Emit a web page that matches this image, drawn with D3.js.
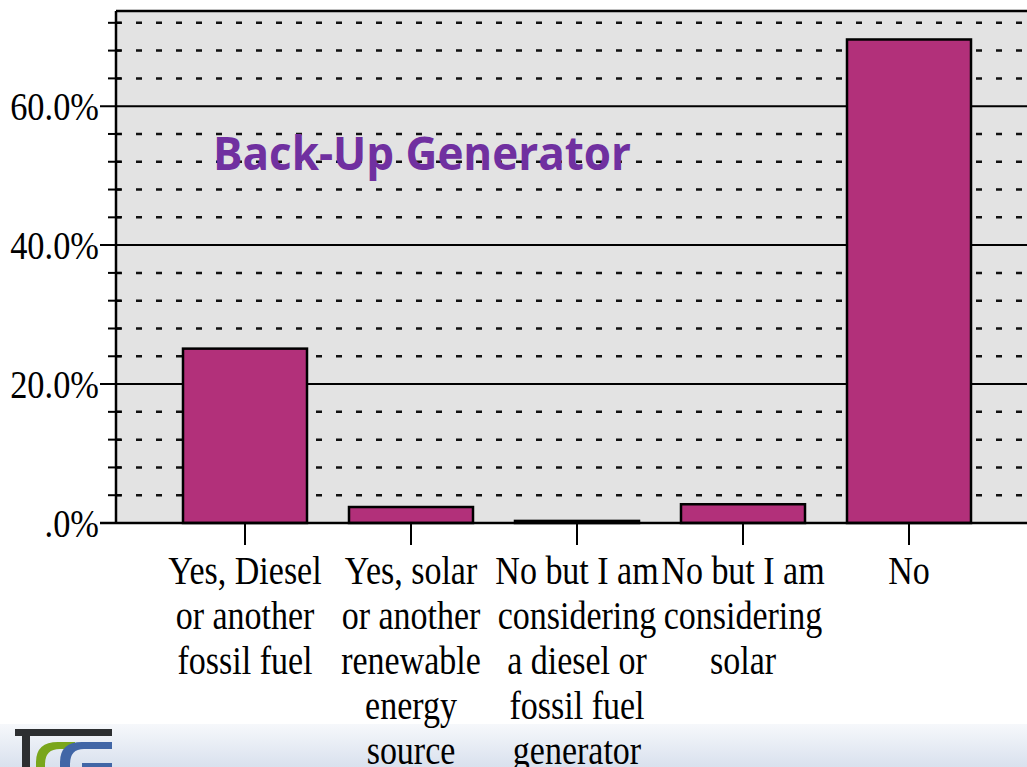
<!DOCTYPE html>
<html>
<head>
<meta charset="utf-8">
<script src="https://cdn.jsdelivr.net/npm/d3@7"></script>
<style>
  html, body { margin: 0; padding: 0; background: #fff; }
  svg { display: block; }
</style>
</head>
<body>
<div id="vis"></div>
<script>
// data
const categories = ['diesel', 'solarYes', 'considerDiesel', 'considerSolar', 'no'];
const categoryLabels = [
  ['Yes, Diesel', 'or another', 'fossil fuel'],
  ['Yes, solar', 'or another', 'renewable', 'energy', 'source'],
  ['No but I am', 'considering', 'a diesel or', 'fossil fuel', 'generator'],
  ['No but I am', 'considering', 'solar'],
  ['No']
];
const percents = [25.1, 2.3, 0.3, 2.7, 69.6];
const majorTicks = [0, 20, 40, 60];
const majorTickLabels = ['.0%', '20.0%', '40.0%', '60.0%'];
const minorTicks = [4, 8, 12, 16, 24, 28, 32, 36, 44, 48, 52, 56, 64, 68, 72];

const W = 1027, H = 767;
const plot = { left: 116, top: 11, bottom: 523, right: 1040 };

const svg = d3.select('#vis')
  .append('svg')
  .attr('width', W)
  .attr('height', H)
  .attr('viewBox', [0, 0, W, H].join(' '));

const x = d3.scaleBand()
  .domain(categories)
  .range([162, 992])
  .paddingInner(0.253)
  .paddingOuter(0.1265);

const y = d3.scaleLinear()
  .domain([0, 73.7])
  .range([plot.bottom, plot.top]);

// bottom band + logo
const defs = svg.append('defs');
const grad = defs.append('linearGradient')
  .attr('id', 'band')
  .attr('x1', 0).attr('y1', 0).attr('x2', 0).attr('y2', 1);
grad.append('stop').attr('offset', '0%').attr('stop-color', '#f6f8fb');
grad.append('stop').attr('offset', '100%').attr('stop-color', '#d9e1ee');

svg.append('rect')
  .attr('x', 0).attr('y', 724)
  .attr('width', W).attr('height', H - 724)
  .attr('fill', 'url(#band)');

const logo = svg.append('g');
logo.append('rect').attr('x', 15).attr('y', 729).attr('width', 97).attr('height', 7).attr('fill', '#2d2f31');
logo.append('rect').attr('x', 22).attr('y', 729).attr('width', 8).attr('height', 40).attr('fill', '#2d2f31');
logo.append('path')
  .attr('d', 'M36,769 L36,762 Q36,742 58,742 L75,742 L75,749 L60,749 Q45,749 45,764 L45,769 Z')
  .attr('fill', '#7aa61c');
logo.append('path')
  .attr('d', 'M60,769 L60,762 Q60,742 82,742 L112,742 L112,749 L84,749 Q70,749 70,764 L70,769 Z')
  .attr('fill', '#4166a6');
logo.append('rect').attr('x', 82).attr('y', 763).attr('width', 30).attr('height', 6).attr('fill', '#4166a6');

// plot background
svg.append('rect')
  .attr('x', plot.left).attr('y', plot.top)
  .attr('width', plot.right - plot.left).attr('height', plot.bottom - plot.top)
  .attr('fill', '#e3e3e3');

// dotted minor grid
svg.append('g')
  .selectAll('line')
  .data(minorTicks)
  .join('line')
  .attr('x1', plot.left).attr('x2', plot.right)
  .attr('y1', d => y(d)).attr('y2', d => y(d))
  .attr('stroke', '#111')
  .attr('stroke-width', 2.5)
  .attr('stroke-dasharray', '6 14');

// minor tick marks on the left axis
svg.append('g')
  .selectAll('line')
  .data(minorTicks)
  .join('line')
  .attr('x1', 108).attr('x2', 121)
  .attr('y1', d => y(d)).attr('y2', d => y(d))
  .attr('stroke', '#000')
  .attr('stroke-width', 2);

// solid major grid
svg.append('g')
  .selectAll('line')
  .data(majorTicks)
  .join('line')
  .attr('x1', 100).attr('x2', plot.right)
  .attr('y1', d => y(d)).attr('y2', d => y(d))
  .attr('stroke', '#000')
  .attr('stroke-width', 2);

// y labels
svg.append('g')
  .selectAll('text')
  .data(majorTicks)
  .join('text')
  .attr('transform', d => `translate(99,${y(d) + 14}) scale(0.86,1)`)
  .attr('text-anchor', 'end')
  .attr('font-family', '"Liberation Serif", "DejaVu Serif", serif')
  .attr('font-size', 40)
  .attr('fill', '#000')
  .text((d, i) => majorTickLabels[i]);

// title
svg.append('text')
  .attr('x', 213).attr('y', 170)
  .attr('font-family', '"Open Sans", "Noto Sans", sans-serif')
  .attr('font-weight', 'bold')
  .attr('font-size', 47)
  .attr('fill', '#7030a0')
  .attr('textLength', 418)
  .attr('lengthAdjust', 'spacingAndGlyphs')
  .text('Back-Up Generator');

// bars
svg.append('g')
  .selectAll('rect')
  .data(categories)
  .join('rect')
  .attr('x', d => x(d))
  .attr('width', x.bandwidth())
  .attr('y', (d, i) => y(percents[i]))
  .attr('height', (d, i) => y(0) - y(percents[i]))
  .attr('fill', '#b2307a')
  .attr('stroke', '#000')
  .attr('stroke-width', 2.5);

// frame: top and left
svg.append('line')
  .attr('x1', plot.left).attr('x2', plot.right)
  .attr('y1', plot.top).attr('y2', plot.top)
  .attr('stroke', '#000').attr('stroke-width', 2.5);
svg.append('line')
  .attr('x1', plot.left).attr('x2', plot.left)
  .attr('y1', plot.top).attr('y2', plot.bottom)
  .attr('stroke', '#000').attr('stroke-width', 2.5);
svg.append('line')
  .attr('x1', 100).attr('x2', plot.right)
  .attr('y1', plot.bottom).attr('y2', plot.bottom)
  .attr('stroke', '#000').attr('stroke-width', 2.5);

// category ticks and labels
const cat = svg.append('g')
  .selectAll('g')
  .data(categories)
  .join('g')
  .attr('transform', d => `translate(${x(d) + x.bandwidth() / 2},0)`);

cat.append('line')
  .attr('y1', plot.bottom).attr('y2', plot.bottom + 22)
  .attr('stroke', '#000').attr('stroke-width', 2);

cat.append('text')
  .attr('transform', 'translate(0,584) scale(0.85,1)')
  .attr('text-anchor', 'middle')
  .attr('font-family', '"Liberation Serif", "DejaVu Serif", serif')
  .attr('font-size', 40)
  .attr('fill', '#000')
  .selectAll('tspan')
  .data((d, i) => categoryLabels[i])
  .join('tspan')
  .attr('x', 0)
  .attr('y', (d, j) => j * 45)
  .text(d => d);
</script>
</body>
</html>
